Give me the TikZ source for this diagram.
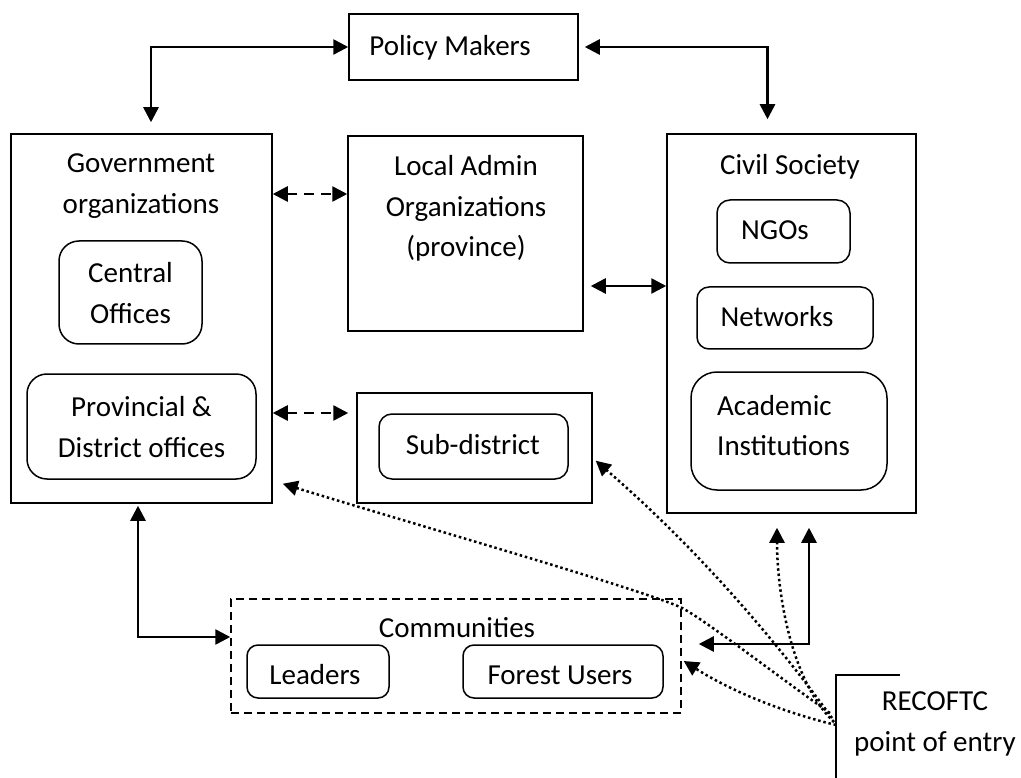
\documentclass[tikz,border=0pt]{standalone}
\usepackage{fontspec}
\setmainfont{Carlito}
\usetikzlibrary{arrows.meta}
\begin{document}
\begin{tikzpicture}[x=1pt,y=-1pt,
  box/.style={draw, line width=1.5pt, inner sep=0pt},
  rbox/.style={box, rounded corners=#1},
  rbox/.default=16pt,
  txt/.style={font=\fontsize{29}{40.5}\selectfont, align=center, inner sep=0pt},
  Tri/.tip={Triangle[length=15pt,width=15pt]},
  link/.style={line width=2.6pt, Tri-Tri},
  dlink/.style={link, dash pattern=on 10pt off 7pt},
  dotlink/.style={line width=2.5pt, dash pattern=on 2.5pt off 2.8pt, -Tri},
]
\useasboundingbox (0,0) rectangle (1021,778);

% boxes
\node[box, minimum width=229pt, minimum height=66pt] (policy) at (463.5,47) {};
\node[box, minimum width=261pt, minimum height=369pt] (gov) at (141.5,318.5) {};
\node[rbox=20pt, minimum width=143pt, minimum height=103pt] (central) at (130.5,292.5) {};
\node[rbox=20pt, minimum width=229pt, minimum height=105pt] (prov) at (141.5,426.5) {};
\node[box, minimum width=235pt, minimum height=195pt] (local) at (465.5,233.5) {};
\node[box, minimum width=235pt, minimum height=110pt] (subout) at (474.5,448) {};
\node[rbox=13pt, minimum width=189pt, minimum height=65pt] (subin) at (473.5,446.5) {};
\node[box, minimum width=249pt, minimum height=379pt] (civil) at (791.5,323.5) {};
\node[rbox=13pt, minimum width=133pt, minimum height=63pt] (ngo) at (783.5,231.5) {};
\node[rbox=12pt, minimum width=176pt, minimum height=62pt] (net) at (785,318) {};
\node[rbox=26pt, minimum width=196pt, minimum height=118pt] (acad) at (789,431) {};
\node[box, dash pattern=on 8pt off 5pt, minimum width=450pt, minimum height=114pt] (comm) at (456,656) {};
\node[rbox=11pt, minimum width=142pt, minimum height=53pt] (leaders) at (318,671.5) {};
\node[rbox=11pt, minimum width=200pt, minimum height=53pt] (forest) at (563,671.5) {};

% texts
\node[txt] (policyt) at (450,47) {\strut Policy Makers};
\node[txt] (govt) at (141,185) {\strut Government\\organizations\strut};
\node[txt] (centralt) at (130.5,295) {\strut Central\\Offices\strut};
\node[txt] (provt) at (141.5,429) {\strut Provincial \&\\District offices\strut};
\node[txt] (localt) at (466,208) {\strut Local Admin\\Organizations\\(province)\strut};
\node[txt] (subt) at (473,446) {\strut Sub-district};
\node[txt] (civilt) at (790,166) {\strut Civil Society};
\node[txt] (ngot) at (775,231) {\strut NGOs};
\node[txt] (nett) at (777,318) {\strut Networks};
\node[txt, align=left, anchor=west] (acadt) at (717,427.5) {\strut Academic\\Institutions\strut};
\node[txt] (commt) at (457,629) {\strut Communities};
\node[txt] (leaderst) at (315,676) {\strut Leaders};
\node[txt] (forestt) at (560,676) {\strut Forest Users};
\node[txt] (rec) at (935,723) {\strut RECOFTC\\point of entry\strut};

% RECOFTC corner
\coordinate (rcbot) at (836,778);
\coordinate (rc) at (836,675);
\coordinate (rcend) at (900,675);
\draw[line width=1.5pt] (rcbot) -- (rc) -- (rcend);

% helper rows
\coordinate (yd1) at (0,194);
\coordinate (yd2) at (0,413);
\coordinate (ys1) at (0,286);
\coordinate (yc1) at (0,637);
\coordinate (yc2) at (0,644);

% solid / dashed connectors
\draw[link] (policy.west) -| ([xshift=9.5pt,yshift=11pt]gov.north);
\draw[link] ([xshift=6pt]policy.east) -| ([xshift=-24pt,yshift=14pt]civil.north);
\draw[dlink] (gov.east |- yd1) -- (local.west |- yd1);
\draw[dlink, shorten >=8pt] (gov.east |- yd2) -- (subout.west |- yd2);
\draw[link, shorten <=7pt] (local.east |- ys1) -- (civil.west |- ys1);
\draw[link] ([xshift=-3.5pt,yshift=-2pt]gov.south) |- (comm.west |- yc1);
\draw[link, shorten <=14pt, shorten >=17pt] ([xshift=17.5pt]civil.south) |- (comm.east |- yc2);

% dotted connectors from RECOFTC
\coordinate (o1) at (830,713);
\coordinate (o2) at (832,718);
\coordinate (o3) at (834,722);
\coordinate (o4) at (836,725);
\coordinate (bend1) at (680,607);
\draw[dotlink] (o1) .. controls (780,678) and (700,616) .. (bend1)
  .. controls (640,589) and (400,520) .. ([shift={(10,-20)}]gov.south east);
\draw[dotlink] (o2) .. controls (763,623) and (684,537) .. ([shift={(3,-43)}]subout.south east);
\draw[dotlink] (o3) .. controls (790,680) and (777,590) .. ([shift={(-14.5,14)}]civil.south);
\draw[dotlink] (o4) .. controls (782,712) and (731,691) .. ([shift={(2,5)}]comm.east);
\end{tikzpicture}
\end{document}
